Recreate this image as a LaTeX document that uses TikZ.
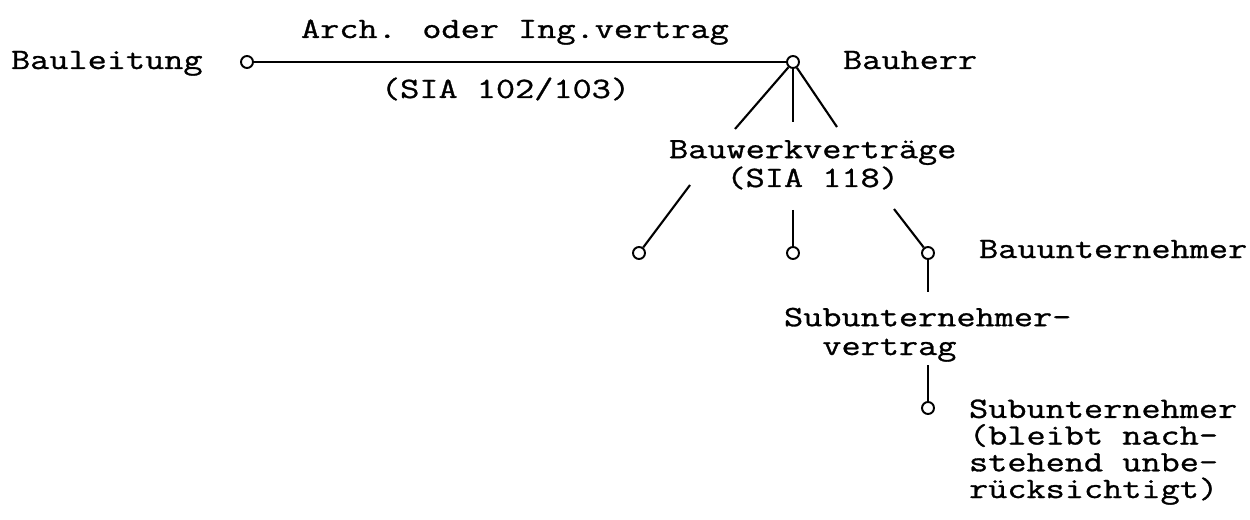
\documentclass[tikz,border=0pt]{standalone}
\usepackage{fontspec}
\newfontfamily\typewriter[FakeStretch=1.26, FakeBold=1]{Latin Modern Mono}
\begin{document}
\begin{tikzpicture}[x=0.02cm, y=-0.02cm, line width=1.2pt,
    knot/.style={circle, draw, line width=1.1pt, inner sep=0pt, minimum size=0.24cm},
    txt/.style={inner sep=0pt, anchor=base west, align=left,
      font=\typewriter\fontsize{16.8}{16.4}\selectfont}]
    \useasboundingbox (0,0) rectangle (1250,520);

    % Vertragsknoten
    \node[knot] (bl) at (247,62) {};
    \node[knot] (bh) at (793,62) {};
    \node[knot] (u1) at (639,253) {};
    \node[knot] (u2) at (793,253) {};
    \node[knot] (bu) at (928,253) {};
    \node[knot] (su) at (928,408) {};

    % Beschriftungen (mehrzeilige an der letzten Zeile ausgerichtet)
    \node[txt] (tbl) at (10,69) {Bauleitung};
    \node[txt] (tbh) at (842,69) {Bauherr};
    \node[txt] (tarch) at (300,38) {Arch. oder Ing.vertrag};
    \node[txt] (tsia) at (380,98) {(SIA 102/103)};
    \node[txt, align=center] (tbw) at (668,187) {Bauwerkverträge\\(SIA 118)};
    \node[txt] (tbu) at (978,258) {Bauunternehmer};
    \node[txt] (tsv) at (783,355) {Subunternehmer-\\\phantom{Su}vertrag};
    \node[txt, font=\typewriter\fontsize{16.8}{15.2}\selectfont] (tsu) at (968,498)
        {Subunternehmer\\(bleibt nach-\\stehend unbe-\\rücksichtigt)};

    % freie Linienenden
    \coordinate (a1) at (735,129);
    \coordinate (a2) at (793,122);
    \coordinate (a3) at (837,127);
    \coordinate (b1) at (690,185);
    \coordinate (b2) at (793,210);
    \coordinate (b3) at (894,209);
    \coordinate (c1) at (928,292);
    \coordinate (c2) at (928,365);

    % Verbindungen
    \draw (bl) -- (bh);
    \foreach \p in {a1,a2,a3} {
        \draw (bh) -- (\p);
    }
    \draw (b1) -- (u1);
    \draw (b2) -- (u2);
    \draw (b3) -- (bu);
    \draw (bu) -- (c1);
    \draw (c2) -- (su);

\end{tikzpicture}
\end{document}
